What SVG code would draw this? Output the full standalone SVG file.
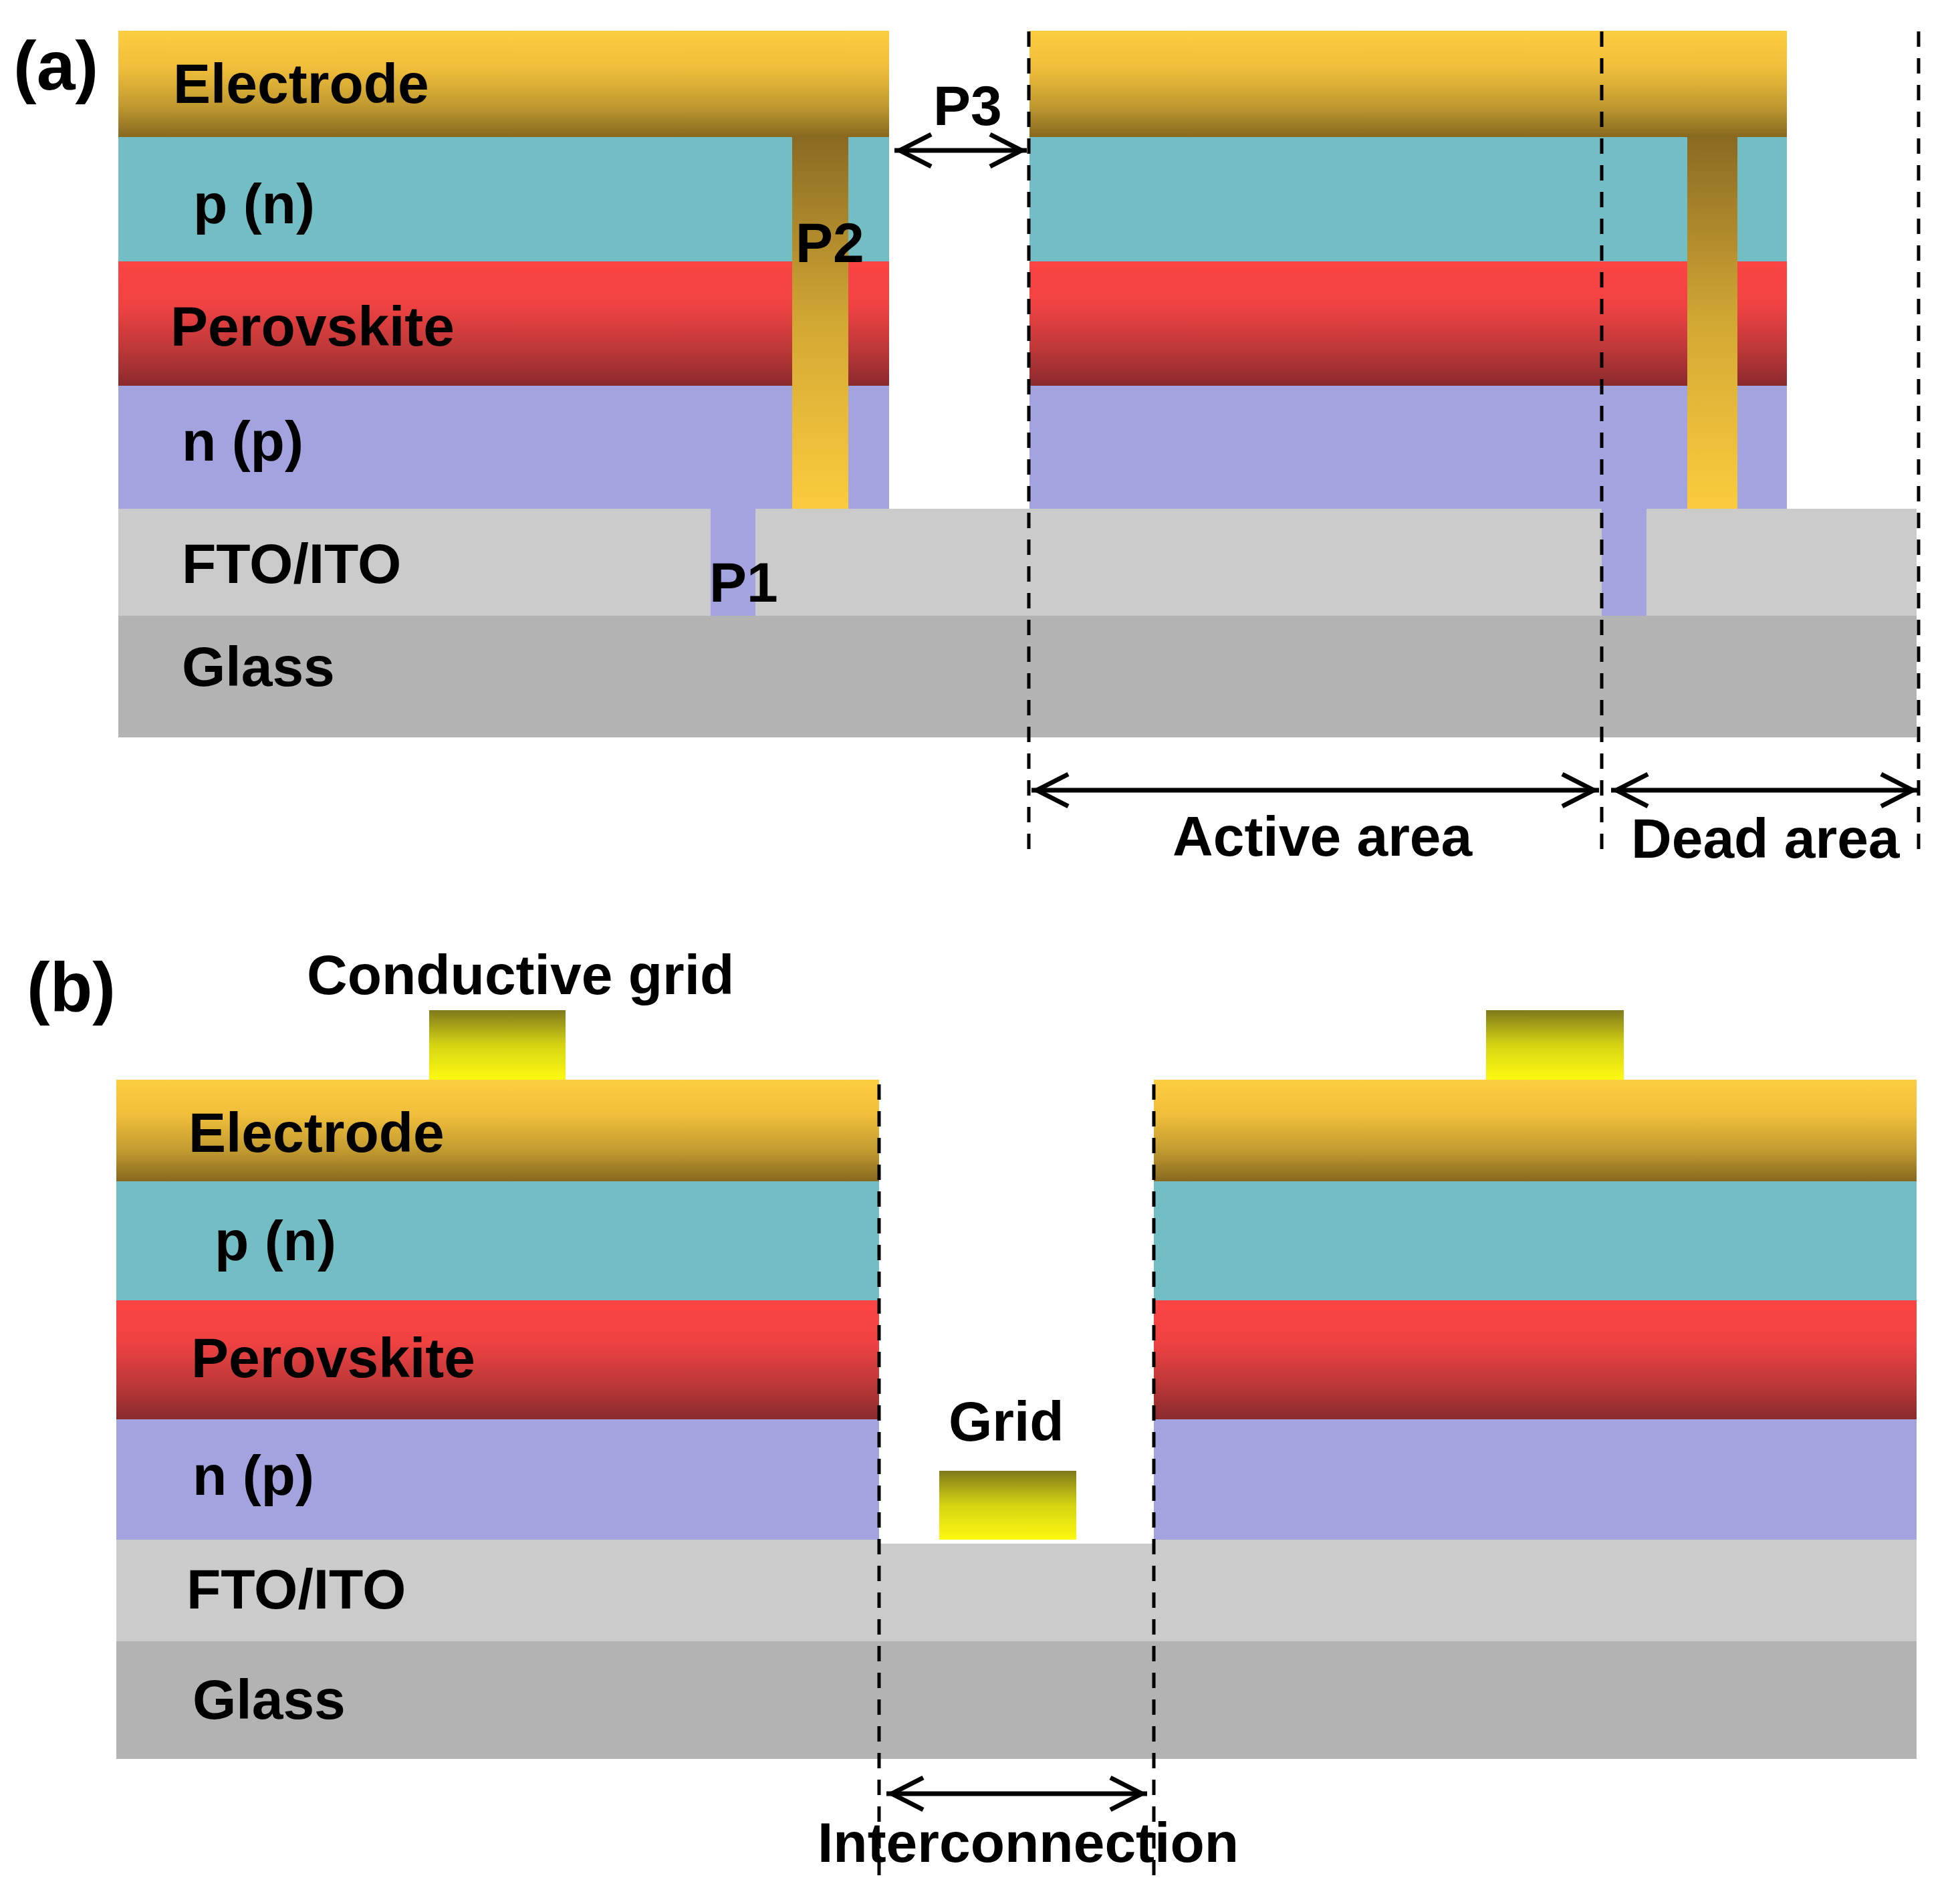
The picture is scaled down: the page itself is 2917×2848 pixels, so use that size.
<svg xmlns="http://www.w3.org/2000/svg" width="2917" height="2848" viewBox="0 0 2917 2848">
<defs>
<linearGradient id="gElec" x1="0" y1="0" x2="0" y2="1">
<stop offset="0" stop-color="#FDCD40"/>
<stop offset="0.35" stop-color="#F0BE3A"/>
<stop offset="0.7" stop-color="#C19A30"/>
<stop offset="1" stop-color="#87691F"/>
</linearGradient>
<linearGradient id="gPero" x1="0" y1="0" x2="0" y2="1">
<stop offset="0" stop-color="#FC4444"/>
<stop offset="0.35" stop-color="#F04242"/>
<stop offset="0.7" stop-color="#BE3838"/>
<stop offset="1" stop-color="#8A2A2E"/>
</linearGradient>
<linearGradient id="gCol" x1="0" y1="0" x2="0" y2="1">
<stop offset="0" stop-color="#8A6A22"/>
<stop offset="0.5" stop-color="#D2A834"/>
<stop offset="1" stop-color="#FCCB3D"/>
</linearGradient>
<linearGradient id="gGrid" x1="0" y1="0" x2="0" y2="1">
<stop offset="0" stop-color="#7F7A1C"/>
<stop offset="0.5" stop-color="#D6D412"/>
<stop offset="1" stop-color="#FCFA10"/>
</linearGradient>
<marker id="arr" markerUnits="userSpaceOnUse" markerWidth="80" markerHeight="70" refX="64" refY="35" orient="auto-start-reverse" overflow="visible">
<path d="M9,11 L56,35 L9,59" fill="none" stroke="#000" stroke-width="7"/>
</marker>
<style>
.lbl{font-family:"Liberation Sans",Arial,Helvetica,sans-serif;font-weight:bold;font-size:84px;fill:#000}
.pan{font-family:"Liberation Sans",Arial,Helvetica,sans-serif;font-weight:bold;font-size:104px;fill:#000}
.elec{fill:url(#gElec)}
.pn{fill:#72BEC4}
.pero{fill:url(#gPero)}
.np{fill:#A3A3E0}
.fto{fill:#CBCBCB}
.glass{fill:#B3B3B3}
.col{fill:url(#gCol)}
.grid{fill:url(#gGrid)}
.dash{stroke:#000;stroke-width:5;stroke-dasharray:23 17;fill:none}
.arrow{stroke:#000;stroke-width:7;fill:none;marker-start:url(#arr);marker-end:url(#arr)}
</style>
</defs>
<rect width="2917" height="2848" fill="#fff"/>

<!-- Panel (a) -->
<g id="a-glass"><rect class="glass" x="177" y="921" width="2690" height="182"/><text class="lbl" x="272" y="1026">Glass</text></g>
<g id="a-fto">
<rect class="fto" x="177" y="761" width="886" height="160"/>
<rect class="fto" x="1130" y="761" width="1266" height="160"/>
<rect class="fto" x="2463" y="761" width="404" height="160"/>
<text class="lbl" x="272" y="872">FTO/ITO</text>
</g>
<g id="a-np">
<rect class="np" x="177" y="577" width="1153" height="184"/>
<rect class="np" x="1540" y="577" width="1133" height="184"/>
<text class="lbl" x="272" y="689">n (p)</text>
</g>
<g id="a-pero">
<rect class="pero" x="177" y="391" width="1153" height="186"/>
<rect class="pero" x="1540" y="391" width="1133" height="186"/>
<text class="lbl" x="255" y="517">Perovskite</text>
</g>
<g id="a-pn">
<rect class="pn" x="177" y="205" width="1153" height="186"/>
<rect class="pn" x="1540" y="205" width="1133" height="186"/>
<text class="lbl" x="289" y="334">p (n)</text>
</g>
<g id="a-electrode">
<rect class="elec" x="177" y="46" width="1153" height="159"/>
<rect class="elec" x="1540" y="46" width="1133" height="159"/>
<text class="lbl" x="259" y="154">Electrode</text>
</g>
<g id="a-P1">
<rect class="np" x="1063" y="761" width="67" height="160"/>
<rect class="np" x="2396" y="761" width="67" height="160"/>
<text class="lbl" x="1061" y="900">P1</text>
</g>
<g id="a-P2">
<rect class="col" x="1185" y="205" width="84" height="556"/>
<rect class="col" x="2524" y="205" width="75" height="556"/>
<text class="lbl" x="1190" y="392">P2</text>
</g>
<g id="a-P3"><text class="lbl" x="1396" y="187">P3</text></g>
<g id="a-label"><text class="pan" x="20" y="134">(a)</text></g>
<g id="a-active"><text class="lbl" x="1754" y="1280">Active area</text></g>
<g id="a-dead"><text class="lbl" x="2440" y="1283">Dead area</text></g>

<!-- Panel (b) -->
<g id="b-glass"><rect class="glass" x="174" y="2455" width="2693" height="176"/><text class="lbl" x="288" y="2571">Glass</text></g>
<g id="b-fto">
<rect class="fto" x="174" y="2303" width="1141" height="152"/>
<rect class="fto" x="1315" y="2309" width="411" height="146"/>
<rect class="fto" x="1726" y="2303" width="1141" height="152"/>
<text class="lbl" x="279" y="2406">FTO/ITO</text>
</g>
<g id="b-np">
<rect class="np" x="174" y="2123" width="1141" height="180"/>
<rect class="np" x="1726" y="2123" width="1141" height="180"/>
<text class="lbl" x="288" y="2236">n (p)</text>
</g>
<g id="b-pero">
<rect class="pero" x="174" y="1945" width="1141" height="178"/>
<rect class="pero" x="1726" y="1945" width="1141" height="178"/>
<text class="lbl" x="286" y="2060">Perovskite</text>
</g>
<g id="b-pn">
<rect class="pn" x="174" y="1767" width="1141" height="178"/>
<rect class="pn" x="1726" y="1767" width="1141" height="178"/>
<text class="lbl" x="321" y="1885">p (n)</text>
</g>
<g id="b-electrode">
<rect class="elec" x="174" y="1615" width="1141" height="152"/>
<rect class="elec" x="1726" y="1615" width="1141" height="152"/>
<text class="lbl" x="282" y="1723">Electrode</text>
</g>
<g id="b-grid-top">
<rect class="grid" x="642" y="1511" width="204" height="104"/>
<rect class="grid" x="2223" y="1511" width="206" height="104"/>
<text class="lbl" x="459" y="1487">Conductive grid</text>
</g>
<g id="b-grid-mid">
<rect class="grid" x="1405" y="2200" width="205" height="103"/>
<text class="lbl" x="1419" y="2155">Grid</text>
</g>
<g id="b-label"><text class="pan" x="40" y="1512">(b)</text></g>
<g id="b-interconnection"><text class="lbl" x="1223" y="2785">Interconnection</text></g>

<!-- Connectors -->
<g id="connectors">
<line class="dash" x1="1539" y1="47" x2="1539" y2="1285"/>
<line class="dash" x1="2396" y1="47" x2="2396" y2="1285"/>
<line class="dash" x1="2870" y1="47" x2="2870" y2="1285"/>
<line class="arrow" x1="1338" y1="225" x2="1536" y2="225"/>
<line class="arrow" x1="1543" y1="1182" x2="2392" y2="1182"/>
<line class="arrow" x1="2410" y1="1182" x2="2869" y2="1182"/>
<line class="dash" x1="1315" y1="1622" x2="1315" y2="2818"/>
<line class="dash" x1="1726" y1="1622" x2="1726" y2="2818"/>
<line class="arrow" x1="1326" y1="2683" x2="1716" y2="2683"/>
</g>
</svg>
